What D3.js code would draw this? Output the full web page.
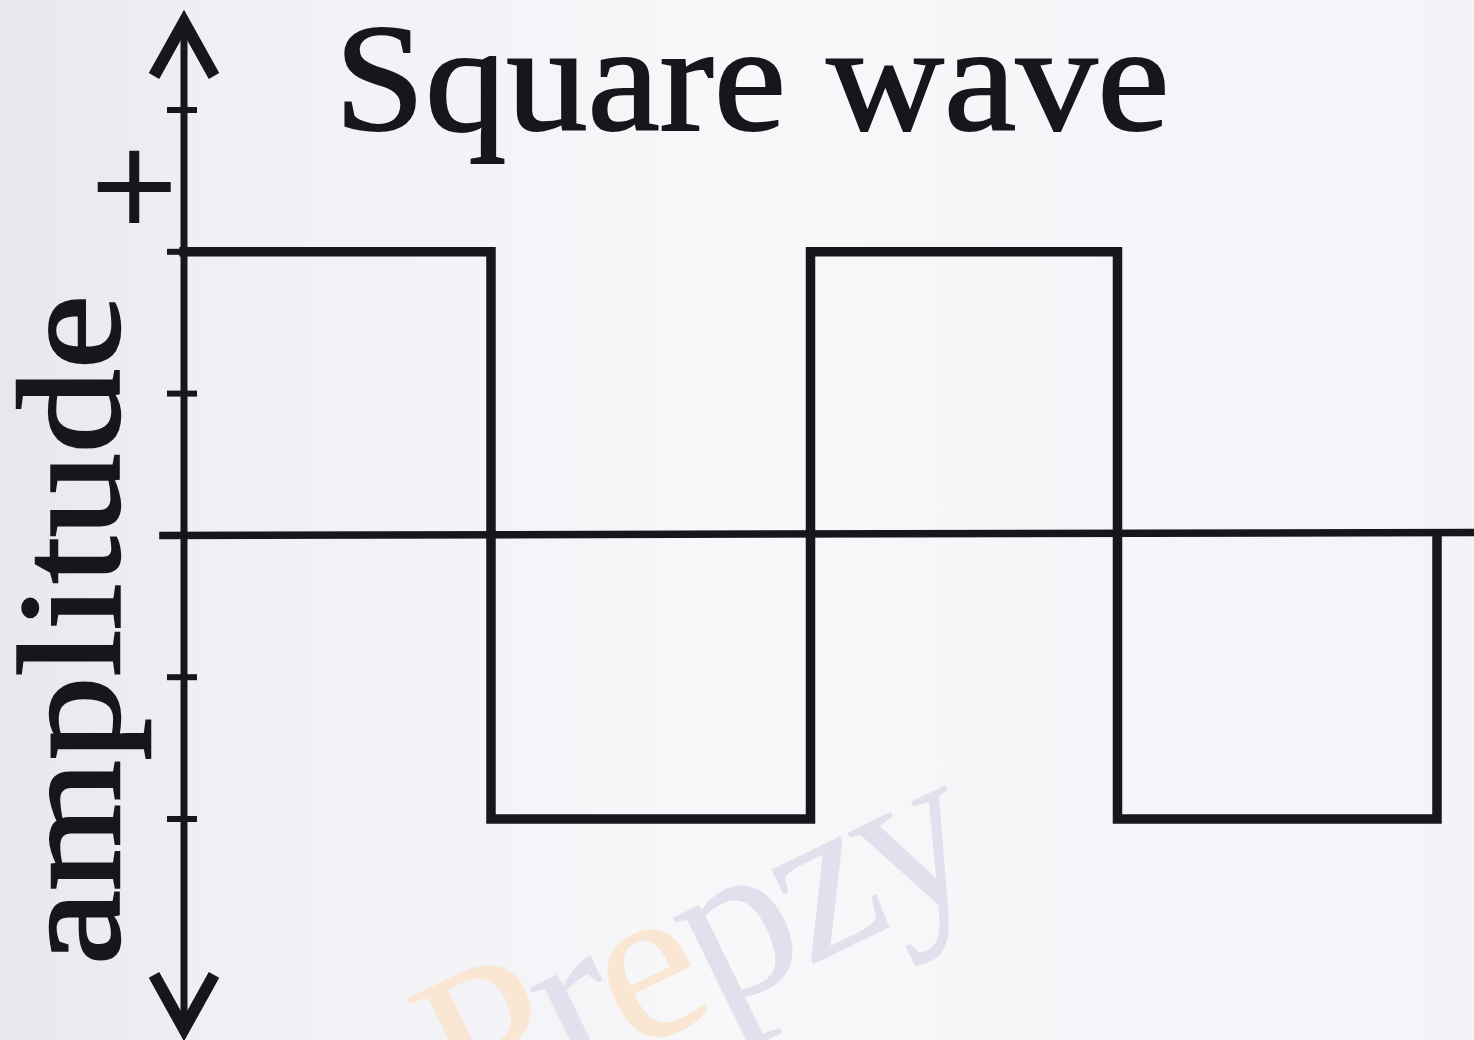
<!DOCTYPE html>
<html>
<head>
<meta charset="utf-8">
<script src="https://cdn.jsdelivr.net/npm/d3@7"></script>
<style>
  html, body { margin: 0; padding: 0; background: #f4f4f8; }
  svg { display: block; }
</style>
</head>
<body>
<script>
// Square wave: level held between successive edge times (in half-periods)
const edgeTimes = [0, 0.98, 2.0, 2.98, 4];
const levels = [2, -2, 2, -2];
const endLevel = 0;

// Amplitude tick marks on the vertical axis
const tickValues = [3, 2, 1, 0, -1, -2];
const yAxisExtent = [-3.53, 3.67];
const xAxisExtent = [-0.06, 4.3];

const titleText = "Square wave";
const yLabel = "amplitude";
const signLabel = "+";
const brandText = ["P", "r", "e", "p", "z", "y"];

const W = 1474, H = 1040;
const ink = "#16161c";

const svg = d3.select("body").append("svg")
  .attr("width", W).attr("height", H);

// soft paper background
const defs = svg.append("defs");
const bg = defs.append("linearGradient").attr("id", "paper")
  .attr("x1", "0").attr("x2", "1").attr("y1", "0").attr("y2", "0");
bg.append("stop").attr("offset", "0%").attr("stop-color", "#e7e7ee");
bg.append("stop").attr("offset", "15%").attr("stop-color", "#efeff5");
bg.append("stop").attr("offset", "50%").attr("stop-color", "#f8f8fa");
bg.append("stop").attr("offset", "100%").attr("stop-color", "#f3f3f8");
svg.append("rect").attr("width", W).attr("height", H).attr("fill", "url(#paper)");

const x = d3.scaleLinear().domain([0, 4]).range([184, 1437]);
const y = d3.scaleLinear().domain([-2, 3]).range([819, 110]);

// faint brand watermark
const wm = svg.append("text")
  .attr("transform", `translate(${x(0.9)},${y(-4.22)}) rotate(-26)`)
  .attr("font-family", "Liberation Serif, serif")
  .attr("font-size", 225)
  .attr("letter-spacing", -8);
wm.selectAll("tspan").data(brandText).join("tspan")
  .attr("fill", (d, i) => (i === 0 || i === 2) ? "#fae7d3" : "#e1e1ed")
  .text(d => d);

// vertical axis with arrowheads
svg.append("line")
  .attr("x1", x(0)).attr("x2", x(0))
  .attr("y1", y(yAxisExtent[1]) + 4).attr("y2", y(yAxisExtent[0]) - 4)
  .attr("stroke", ink).attr("stroke-width", 7);

const arrow = (tipY, dir) => {
  const p = d3.path();
  p.moveTo(x(0) - 30, tipY + dir * 54);
  p.lineTo(x(0), tipY);
  p.lineTo(x(0) + 30, tipY + dir * 54);
  return p.toString();
};
svg.append("path").attr("d", arrow(y(yAxisExtent[1]) + 7, 1))
  .attr("fill", "none").attr("stroke", ink).attr("stroke-width", 12)
  .attr("stroke-linejoin", "miter");
svg.append("path").attr("d", arrow(y(yAxisExtent[0]) - 7, -1))
  .attr("fill", "none").attr("stroke", ink).attr("stroke-width", 12)
  .attr("stroke-linejoin", "miter");

// tick marks crossing the axis
svg.append("g").selectAll("line").data(tickValues).join("line")
  .attr("x1", x(0) - 17).attr("x2", x(0) + 13)
  .attr("y1", d => y(d)).attr("y2", d => y(d))
  .attr("stroke", ink).attr("stroke-width", 6);

// horizontal time axis
svg.append("line")
  .attr("x1", x(xAxisExtent[0]) - 6).attr("x2", x(xAxisExtent[1]))
  .attr("y1", y(0)).attr("y2", y(0) - 3)
  .attr("stroke", ink).attr("stroke-width", 7.5);

// square wave trace
const pts = [];
levels.forEach((lv, i) => {
  pts.push([edgeTimes[i], lv]);
  pts.push([edgeTimes[i + 1], lv]);
});
pts.push([edgeTimes[edgeTimes.length - 1], endLevel]);

const line = d3.line().x(d => x(d[0])).y(d => y(d[1]));
svg.append("path").datum(pts)
  .attr("d", line)
  .attr("fill", "none").attr("stroke", ink).attr("stroke-width", 9.5)
  .attr("stroke-linejoin", "miter").attr("stroke-linecap", "square");

// title
svg.append("text")
  .attr("x", 752).attr("y", 130)
  .attr("text-anchor", "middle")
  .attr("font-family", "Liberation Serif, serif")
  .attr("font-size", 152)
  .attr("fill", ink)
  .attr("stroke", ink).attr("stroke-width", 2)
  .attr("textLength", 835).attr("lengthAdjust", "spacingAndGlyphs")
  .text(titleText);

// rotated axis label
svg.append("text")
  .attr("transform", "translate(119,630) rotate(-90)")
  .attr("text-anchor", "middle")
  .attr("font-family", "Liberation Serif, serif")
  .attr("font-size", 146)
  .attr("fill", ink)
  .attr("stroke", ink).attr("stroke-width", 2.5)
  .attr("textLength", 670).attr("lengthAdjust", "spacingAndGlyphs")
  .text(yLabel);

svg.append("text")
  .attr("transform", "translate(184,187) rotate(-90)")
  .attr("text-anchor", "middle")
  .attr("font-family", "Liberation Serif, serif")
  .attr("font-size", 150)
  .attr("fill", ink)
  .attr("stroke", ink).attr("stroke-width", 2.5)
  .text(signLabel);
</script>
</body>
</html>
